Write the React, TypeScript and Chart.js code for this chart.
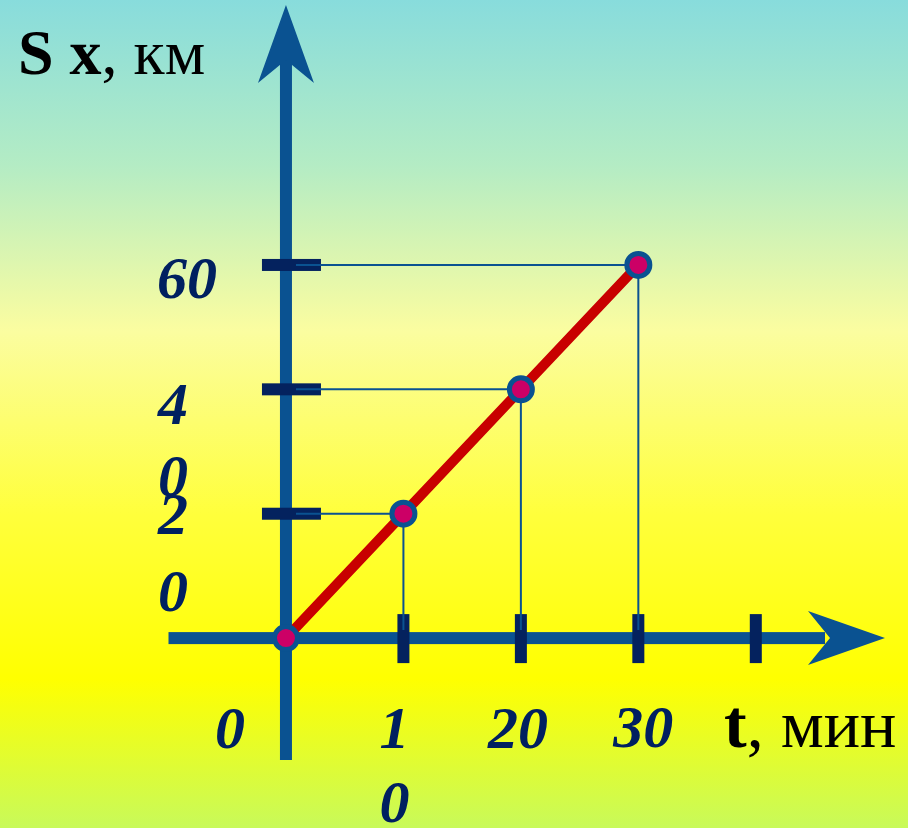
import React, { useEffect, useRef } from "react";
import { Chart, registerables } from "chart.js";

Chart.register(...registerables);

// ---- data ----
const timeValues = [0, 10, 20, 30]; // t, мин
const distanceValues = [0, 20, 40, 60]; // S, км
const xTickValues = [10, 20, 30, 40];
const yTickValues = [20, 40, 60];
const xTickLabels = [["0"], ["1", "0"], ["20"], ["30"]];
const xTickLabelValues = [0, 10, 20, 30];
const yTickLabels = [["60"], ["4", "0"], ["2", "0"]];
const yTickLabelValues = [60, 40, 20];

// ---- styles / layout ----
const AXIS_COLOR = "#0a5291";
const TICK_COLOR = "#04225e";
const LABEL_COLOR = "#002060";
const LINE_COLOR = "#c80000";
const POINT_FILL = "#cc0066";
const LABEL_FONT = "italic bold 60px 'Liberation Serif', 'DejaVu Serif', serif";

// per-label text layout (pixel offsets relative to tick pixel)
const yLabelLayout: Record<number, { x: number; dy: number[] }> = {
  60: { x: 187, dy: [33] },
  40: { x: 173, dy: [35, 107] },
  20: { x: 173, dy: [20, 97] },
};
const xLabelLayout: Record<number, { dx: number; y: number[] }> = {
  0: { dx: -56, y: [748] },
  10: { dx: -9, y: [748, 822] },
  20: { dx: -3, y: [748] },
  30: { dx: 5, y: [747] },
};

const decorPlugin = {
  id: "decor",
  beforeDraw(chart: any) {
    const { ctx, width, height } = chart;
    ctx.save();
    const g = ctx.createLinearGradient(0, 0, 0, height);
    g.addColorStop(0, "#88dcdc");
    g.addColorStop(0.2, "#b4ecc4");
    g.addColorStop(0.4, "#fbfda0");
    g.addColorStop(0.62, "#ffff3c");
    g.addColorStop(0.82, "#ffff00");
    g.addColorStop(1, "#c8fa5a");
    ctx.fillStyle = g;
    ctx.fillRect(0, 0, width, height);
    ctx.restore();
  },
  beforeDatasetsDraw(chart: any) {
    const { ctx } = chart;
    const xs = chart.scales.x;
    const ys = chart.scales.y;
    const x0 = xs.getPixelForValue(0);
    const y0 = ys.getPixelForValue(0);
    const xLeft = xs.getPixelForValue(xs.min);
    const xRight = xs.getPixelForValue(xs.max);
    const yTop = ys.getPixelForValue(ys.max);
    const yBottom = ys.getPixelForValue(ys.min);
    ctx.save();

    // axes shafts
    ctx.fillStyle = AXIS_COLOR;
    ctx.fillRect(x0 - 6, yTop + 50, 12, yBottom - yTop - 50);
    ctx.fillRect(xLeft, y0 - 6, xRight - xLeft - 60, 12);
    // up arrow
    ctx.beginPath();
    ctx.moveTo(x0, yTop);
    ctx.lineTo(x0 + 28, yTop + 78);
    ctx.lineTo(x0, yTop + 55);
    ctx.lineTo(x0 - 28, yTop + 78);
    ctx.closePath();
    ctx.fill();
    // right arrow
    ctx.beginPath();
    ctx.moveTo(xRight, y0);
    ctx.lineTo(xRight - 77, y0 - 27);
    ctx.lineTo(xRight - 55, y0);
    ctx.lineTo(xRight - 77, y0 + 27);
    ctx.closePath();
    ctx.fill();

    // tick marks
    ctx.fillStyle = TICK_COLOR;
    yTickValues.forEach((v) => {
      const py = ys.getPixelForValue(v);
      ctx.fillRect(x0 - 24, py - 6, 59, 12);
    });
    xTickValues.forEach((v) => {
      const px = xs.getPixelForValue(v);
      ctx.fillRect(px - 6, y0 - 24, 12, 49);
    });

    // guide lines
    ctx.strokeStyle = AXIS_COLOR;
    ctx.lineWidth = 2;
    timeValues.forEach((t, i) => {
      const s = distanceValues[i];
      if (t === 0) return;
      const px = xs.getPixelForValue(t);
      const py = ys.getPixelForValue(s);
      ctx.beginPath();
      ctx.moveTo(x0 + 10, py);
      ctx.lineTo(px, py);
      ctx.lineTo(px, y0 - 8);
      ctx.stroke();
    });

    // tick labels
    ctx.fillStyle = LABEL_COLOR;
    ctx.font = LABEL_FONT;
    ctx.textAlign = "center";
    ctx.textBaseline = "alphabetic";
    yTickLabels.forEach((lines, i) => {
      const v = yTickLabelValues[i];
      const lay = yLabelLayout[v];
      const py = ys.getPixelForValue(v);
      lines.forEach((txt, j) => ctx.fillText(txt, lay.x, py + lay.dy[j]));
    });
    xTickLabels.forEach((lines, i) => {
      const v = xTickLabelValues[i];
      const lay = xLabelLayout[v];
      const px = xs.getPixelForValue(v);
      lines.forEach((txt, j) => ctx.fillText(txt, px + lay.dx, lay.y[j]));
    });

    // axis titles
    ctx.fillStyle = "#000000";
    ctx.textAlign = "left";
    let cx = 18;
    ctx.font = "bold 64px 'Liberation Serif', serif";
    ctx.fillText("S x", cx, 74);
    cx += ctx.measureText("S x").width;
    ctx.font = "64px 'Liberation Serif', serif";
    ctx.fillText(", км", cx, 74);

    cx = 724;
    ctx.font = "bold 68px 'Liberation Serif', serif";
    ctx.fillText("t", cx, 747);
    cx += ctx.measureText("t").width;
    ctx.font = "68px 'Liberation Serif', serif";
    ctx.fillText(", мин", cx, 747);

    ctx.restore();
  },
};

export default function App() {
  const canvasRef = useRef<HTMLCanvasElement | null>(null);
  useEffect(() => {
    document.body.style.margin = "0";
    const canvas = canvasRef.current;
    if (!canvas) return;
    const chart = new Chart(canvas, {
      type: "line",
      data: {
        datasets: [
          {
            data: timeValues.map((t, i) => ({ x: t, y: distanceValues[i] })),
            borderColor: LINE_COLOR,
            borderWidth: 10,
            pointRadius: 11.5,
            pointBorderWidth: 5,
            pointBackgroundColor: POINT_FILL,
            pointBorderColor: AXIS_COLOR,
            fill: false,
            tension: 0,
          },
        ],
      },
      options: {
        animation: false,
        responsive: false,
        devicePixelRatio: 1,
        layout: { autoPadding: false, padding: { left: 168.5, right: 23, top: 5, bottom: 68 } },
        plugins: { legend: { display: false }, tooltip: { enabled: false } },
        events: [],
        scales: {
          x: { type: "linear", min: -10, max: 51, display: false },
          y: { type: "linear", min: -19.6, max: 101.8, display: false },
        },
      },
      plugins: [decorPlugin],
    });
    return () => chart.destroy();
  }, []);
  return (
    <div style={{ width: 908, height: 828 }}>
      <canvas ref={canvasRef} width={908} height={828} style={{ display: "block" }} />
    </div>
  );
}
